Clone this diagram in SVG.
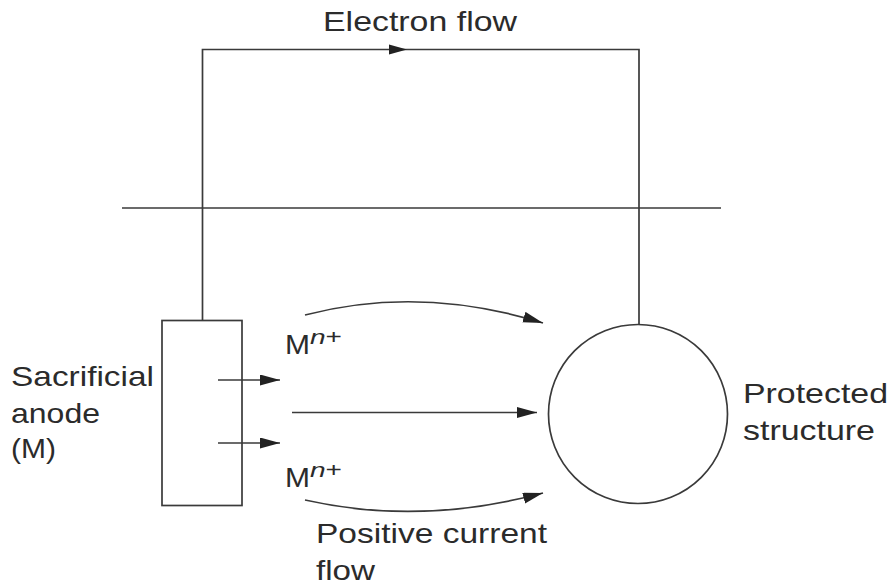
<svg xmlns="http://www.w3.org/2000/svg" width="892" height="585" viewBox="0 0 892 585">
<style>
.ln{fill:none;stroke:#3a3a3a;stroke-width:1.7}
.t{font-family:"Liberation Sans",Arial,sans-serif;font-size:28px;fill:#2b2b2b}
.sup{font-family:"Liberation Sans",Arial,sans-serif;font-size:20px;fill:#2b2b2b}
</style>
<defs>
<marker id="ah" markerUnits="userSpaceOnUse" markerWidth="22" markerHeight="12" refX="20" refY="5.5" orient="auto">
<path d="M0,0 L20,5.5 L0,11 Z" fill="#222"/>
</marker>
</defs>
<rect width="892" height="585" fill="#fff"/>
<g id="connectors">
<path class="ln" d="M202.5,320 V49.5 H639 V324"/>
<polygon points="389,44.5 407,49.5 389,54.5" fill="#222"/>
<line class="ln" x1="122" y1="208" x2="721" y2="208"/>
<line class="ln" x1="218" y1="380" x2="280" y2="380" marker-end="url(#ah)"/>
<line class="ln" x1="218" y1="443" x2="280" y2="443" marker-end="url(#ah)"/>
<line class="ln" x1="292" y1="412.5" x2="537" y2="412.5" marker-end="url(#ah)"/>
<path class="ln" d="M305,315 Q420,285 543,323" marker-end="url(#ah)"/>
<path class="ln" d="M305,500 Q420,526 543,493" marker-end="url(#ah)"/>
</g>
<g id="anode">
<rect class="ln" x="162" y="320.5" width="80" height="185"/>
<text class="t" x="11" y="386" textLength="143" lengthAdjust="spacingAndGlyphs">Sacrificial</text>
<text class="t" x="11" y="423" textLength="89" lengthAdjust="spacingAndGlyphs">anode</text>
<text class="t" x="11" y="458" textLength="45" lengthAdjust="spacingAndGlyphs">(M)</text>
</g>
<g id="structure">
<circle class="ln" cx="638" cy="414" r="89.5"/>
<text class="t" x="743" y="403" textLength="145" lengthAdjust="spacingAndGlyphs">Protected</text>
<text class="t" x="743" y="440" textLength="132" lengthAdjust="spacingAndGlyphs">structure</text>
</g>
<g id="labels">
<text class="t" x="323" y="31" textLength="194" lengthAdjust="spacingAndGlyphs">Electron flow</text>
<text class="t" x="285" y="354" textLength="25" lengthAdjust="spacingAndGlyphs">M</text>
<text class="sup" x="310" y="344" textLength="32" lengthAdjust="spacingAndGlyphs"><tspan font-style="italic">n</tspan>+</text>
<text class="t" x="285" y="487" textLength="25" lengthAdjust="spacingAndGlyphs">M</text>
<text class="sup" x="310" y="477" textLength="32" lengthAdjust="spacingAndGlyphs"><tspan font-style="italic">n</tspan>+</text>
<text class="t" x="316" y="543" textLength="231" lengthAdjust="spacingAndGlyphs">Positive current</text>
<text class="t" x="316" y="580" textLength="59" lengthAdjust="spacingAndGlyphs">flow</text>
</g>
</svg>
